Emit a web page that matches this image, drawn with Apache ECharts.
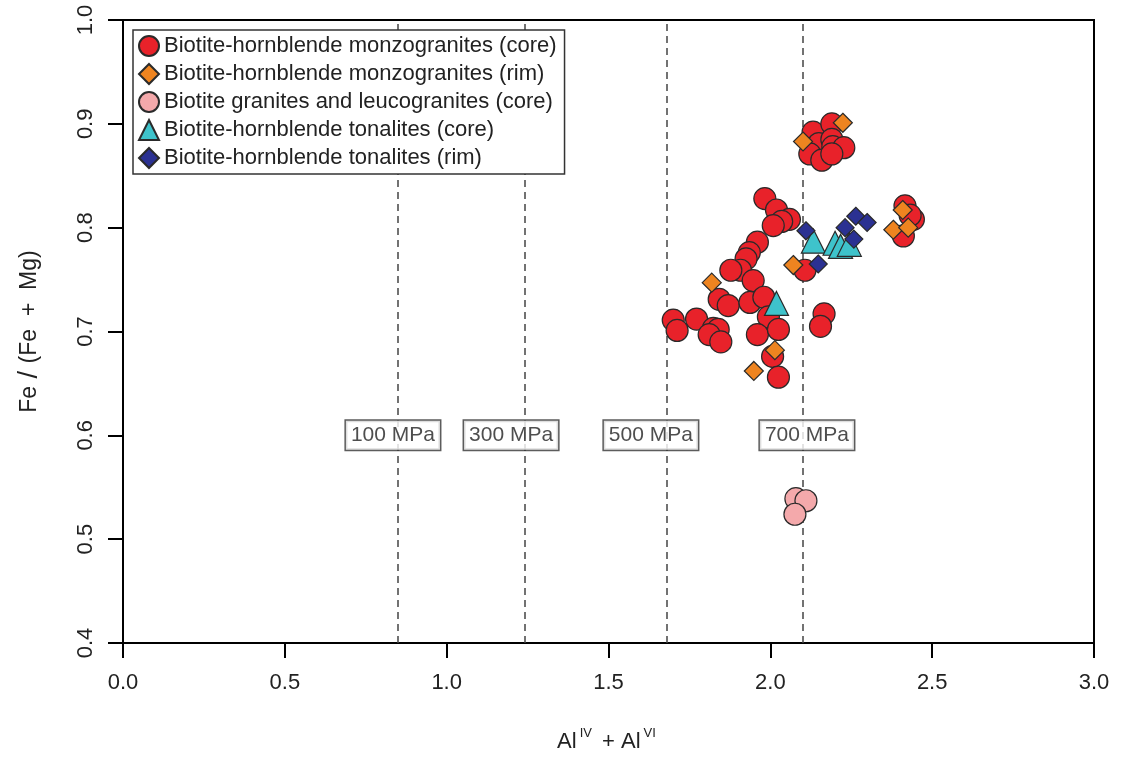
<!DOCTYPE html>
<html>
<head>
<meta charset="utf-8">
<script src="https://cdn.jsdelivr.net/npm/echarts@6/dist/echarts.min.js"></script>
<style>
  html, body { margin: 0; padding: 0; background: #fff; overflow: hidden; }
  #main { width: 1121px; height: 758px; }
</style>
</head>
<body>
<div id="main"></div>
<script>
// series names (legend order)
var seriesNames = [
    'Biotite-hornblende monzogranites (core)',
    'Biotite-hornblende monzogranites (rim)',
    'Biotite granites and leucogranites (core)',
    'Biotite-hornblende tonalites (core)',
    'Biotite-hornblende tonalites (rim)'
];

// [Al(IV)+Al(VI), Fe/(Fe+Mg)]
var monzoCore = [
    [2.132, 0.892], [2.190, 0.900], [2.150, 0.881], [2.190, 0.885], [2.193, 0.878],
    [2.227, 0.877], [2.122, 0.871], [2.159, 0.865], [2.190, 0.871],
    [1.983, 0.828], [2.019, 0.817], [2.059, 0.808], [2.035, 0.806], [2.009, 0.802],
    [1.960, 0.786], [1.935, 0.776], [1.925, 0.770], [1.908, 0.759], [1.878, 0.759],
    [1.947, 0.749], [2.107, 0.759],
    [1.842, 0.731], [1.870, 0.725], [1.937, 0.728], [1.980, 0.733], [1.994, 0.714],
    [1.700, 0.711], [1.712, 0.701], [1.772, 0.712], [1.824, 0.703], [1.839, 0.702],
    [1.811, 0.697], [1.847, 0.690], [1.960, 0.697], [2.025, 0.702], [2.007, 0.676],
    [2.025, 0.656],
    [2.166, 0.717], [2.155, 0.705],
    [2.416, 0.821], [2.442, 0.808], [2.432, 0.812], [2.411, 0.792]
];
var monzoRim = [
    [2.224, 0.901], [2.101, 0.883], [1.819, 0.747], [2.071, 0.764], [2.014, 0.682],
    [1.949, 0.662], [2.409, 0.817], [2.380, 0.798], [2.426, 0.800]
];
var granCore = [
    [2.079, 0.539], [2.110, 0.537], [2.076, 0.524]
];
var tonaCore = [
    [2.133, 0.787], [2.200, 0.785], [2.217, 0.782], [2.244, 0.784], [2.019, 0.727]
];
var tonaRim = [
    [2.110, 0.797], [2.264, 0.811], [2.299, 0.805], [2.231, 0.800], [2.258, 0.789],
    [2.148, 0.765]
];

// pressure isobars
var pressureX = [0.846, 1.239, 1.681, 2.101];
var pressureLabelX = [0.834, 1.199, 1.631, 2.113];
var pressureLabels = ['100 MPa', '300 MPa', '500 MPa', '700 MPa'];
var pressureLabelY = 0.6;

var font = '"Liberation Sans", Arial, Helvetica, sans-serif';
var dom = document.getElementById('main');
var myChart = echarts.init(dom);

var labelPoints = [];
for (var i = 0; i < pressureLabels.length; i++) {
    labelPoints.push({ value: [pressureLabelX[i], pressureLabelY], name: pressureLabels[i] });
}
var markLines = [];
for (var i = 0; i < pressureX.length; i++) {
    markLines.push({ xAxis: pressureX[i] });
}

function pointSeries(name, data, symbol, size, color) {
    return {
        name: name,
        type: 'scatter',
        data: data,
        symbol: symbol,
        symbolSize: size,
        itemStyle: { color: color, borderColor: '#2a2a2a', borderWidth: 1.2, opacity: 1 },
        emphasis: { disabled: true },
        z: 3
    };
}

var option = {
    animation: false,
    backgroundColor: '#fff',
    textStyle: { fontFamily: font },
    grid: {
        left: 123, right: 27, top: 20, bottom: 108,
        show: true, borderColor: '#000', borderWidth: 2
    },
    legend: {
        data: seriesNames,
        orient: 'vertical',
        left: 133, top: 30,
        itemWidth: 20, itemHeight: 20, itemGap: 6,
        padding: [5, 8, 5, 5],
        backgroundColor: '#fff',
        borderColor: '#333', borderWidth: 1.5,
        textStyle: { fontSize: 22, color: '#222', fontFamily: font },
        selectedMode: false
    },
    xAxis: {
        type: 'value',
        min: 0, max: 3, interval: 0.5,
        name: '{b|Al}{s|IV}{b| + Al}{s|VI}',
        nameLocation: 'middle',
        nameGap: 84,
        nameTextStyle: {
            rich: {
                b: { fontSize: 22, color: '#222', fontFamily: font, verticalAlign: 'bottom', lineHeight: 26 },
                s: { fontSize: 13, color: '#222', fontFamily: font, verticalAlign: 'top', lineHeight: 26, padding: [0, 4, 0, 3] }
            }
        },
        axisLine: { lineStyle: { color: '#000', width: 2 } },
        axisTick: { length: 15, lineStyle: { color: '#000', width: 2 } },
        axisLabel: {
            fontSize: 22, color: '#222', margin: 29,
            formatter: function (v) { return v.toFixed(1); }
        },
        splitLine: { show: false }
    },
    yAxis: {
        type: 'value',
        min: 0.4, max: 1.0, interval: 0.1,
        name: '{a|Fe}{s| / }{a|(Fe  +  Mg)}',
        nameLocation: 'middle',
        nameGap: 80,
        nameTextStyle: {
            rich: {
                a: { fontSize: 23, color: '#222', fontFamily: font },
                s: { fontSize: 27, color: '#222', fontFamily: font }
            }
        },
        axisLine: { lineStyle: { color: '#000', width: 2 } },
        axisTick: { length: 15, lineStyle: { color: '#000', width: 2 } },
        axisLabel: {
            fontSize: 22, color: '#222', margin: 26, rotate: 90,
            formatter: function (v) { return v.toFixed(1); }
        },
        splitLine: { show: false }
    },
    series: [
        {
            name: 'pressure',
            type: 'scatter',
            data: labelPoints,
            symbolSize: 0,
            silent: true,
            z: 2,
            label: {
                show: true,
                position: 'inside',
                formatter: '{b}',
                fontSize: 21,
                color: '#222',
                backgroundColor: '#fff',
                borderColor: '#333',
                borderWidth: 1.5,
                padding: [5, 5, 3, 5]
            },
            markLine: {
                silent: true,
                symbol: 'none',
                label: { show: false },
                lineStyle: { color: '#444', type: [7, 5], width: 1.5 },
                data: markLines,
                z: 1
            }
        },
        pointSeries(seriesNames[0], monzoCore, 'circle', 22, '#e8222a'),
        pointSeries(seriesNames[1], monzoRim, 'diamond', 19, '#ee8420'),
        pointSeries(seriesNames[2], granCore, 'circle', 22, '#f4a9ab'),
        pointSeries(seriesNames[3], tonaCore, 'triangle', 24, '#3ec3cb'),
        pointSeries(seriesNames[4], tonaRim, 'diamond', 18, '#2b3192')
    ]
};

if (option && typeof option === "object") {
    myChart.setOption(option, true);
}
</script>
</body>
</html>
